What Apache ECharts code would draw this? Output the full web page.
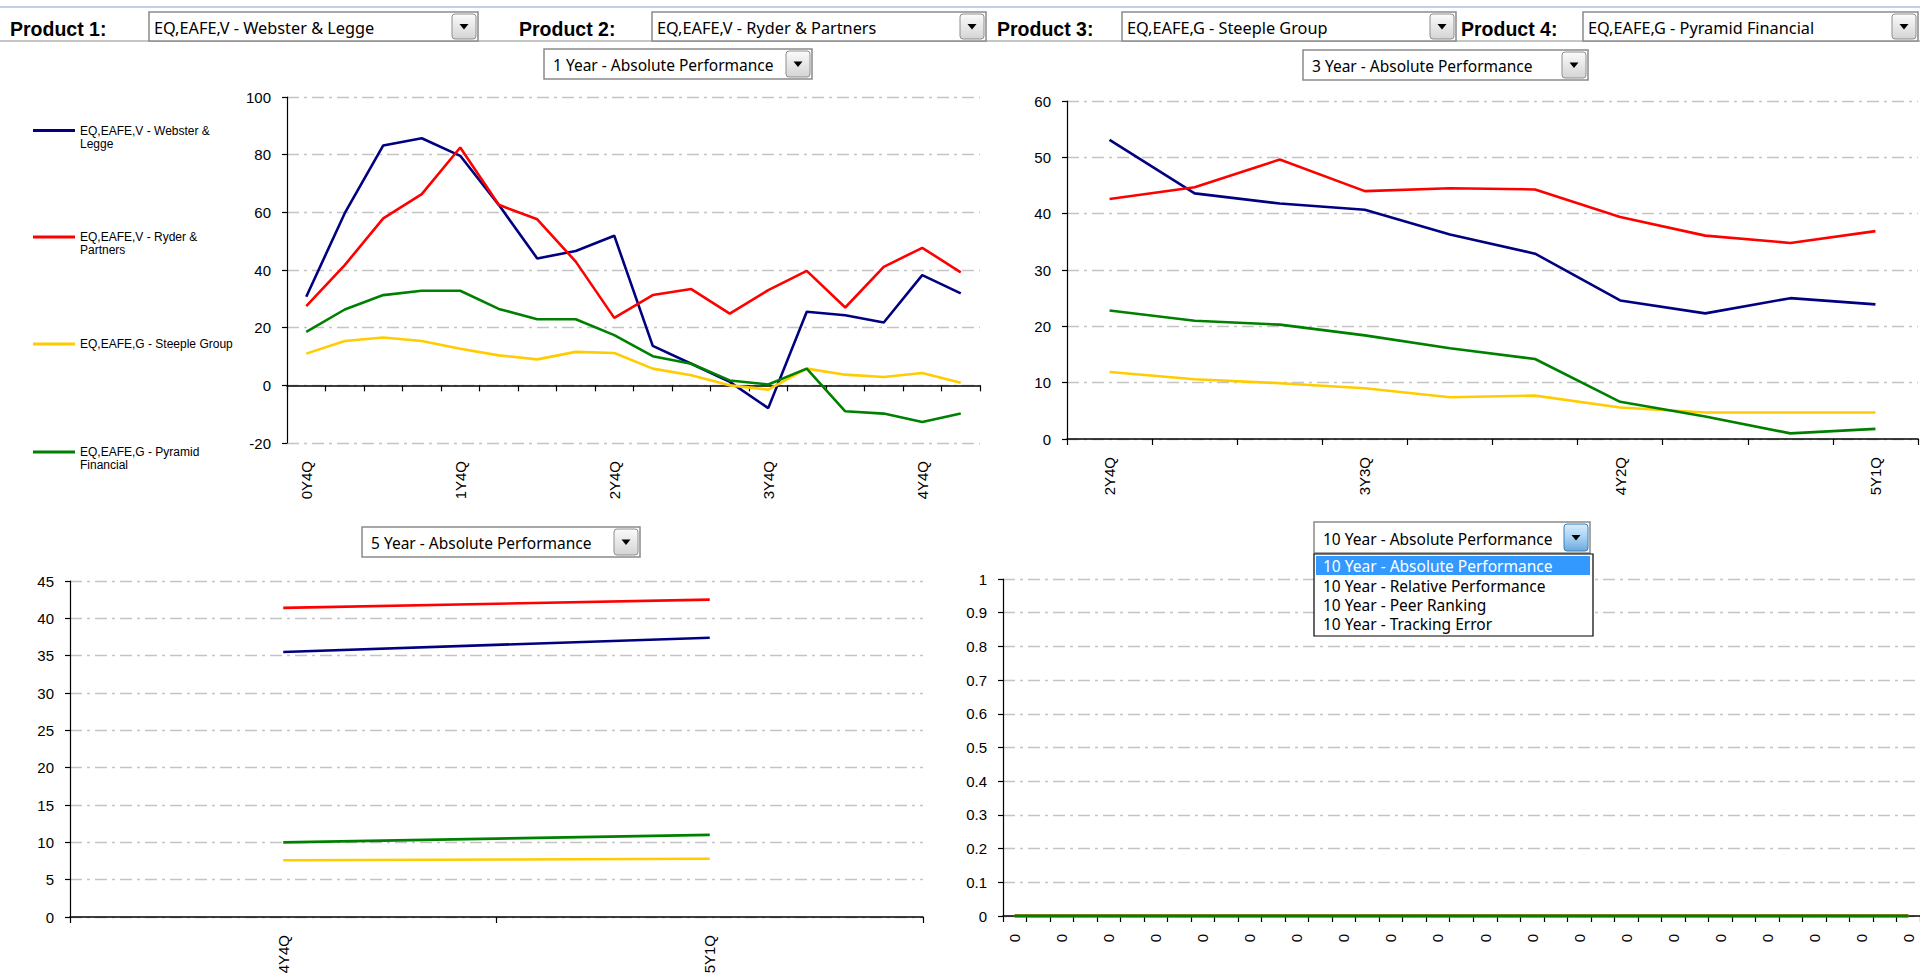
<!DOCTYPE html>
<html>
<head>
<meta charset="utf-8">
<script src="https://cdn.jsdelivr.net/npm/echarts@6/dist/echarts.min.js"></script>
<style>
html,body{margin:0;padding:0;background:#fff;overflow:hidden;}
#chart{width:1920px;height:980px;}
</style>
</head>
<body>
<div id="chart"></div>
<script>
// ---------- data ----------
const seriesNames = ['EQ,EAFE,V - Webster & Legge', 'EQ,EAFE,V - Ryder & Partners', 'EQ,EAFE,G - Steeple Group', 'EQ,EAFE,G - Pyramid Financial'];
const productLabels = ['Product 1:', 'Product 2:', 'Product 3:', 'Product 4:'];
const periodLabels = ['1 Year - Absolute Performance', '3 Year - Absolute Performance', '5 Year - Absolute Performance', '10 Year - Absolute Performance'];
const periodOptions10 = ['10 Year - Absolute Performance', '10 Year - Relative Performance', '10 Year - Peer Ranking', '10 Year - Tracking Error'];

const cats1Y = ['0Y4Q','1Y1Q','1Y2Q','1Y3Q','1Y4Q','2Y1Q','2Y2Q','2Y3Q','2Y4Q','3Y1Q','3Y2Q','3Y3Q','3Y4Q','4Y1Q','4Y2Q','4Y3Q','4Y4Q','5Y1Q'];
const webster1Y  = [30.7, 59.7, 83.2, 85.7, 79.6, 62.6, 44.0, 46.6, 51.9, 13.7, 7.5, 1.2, -7.9, 25.5, 24.3, 21.8, 38.2, 31.9];
const ryder1Y    = [27.5, 41.7, 57.9, 66.3, 82.5, 62.6, 57.6, 42.9, 23.4, 31.3, 33.4, 24.9, 33.0, 39.7, 27.0, 41.1, 47.7, 39.2];
const steeple1Y  = [11.0, 15.4, 16.6, 15.4, 12.7, 10.4, 9.0, 11.6, 11.2, 5.8, 3.5, 0.0, -1.5, 5.8, 3.7, 2.9, 4.3, 0.9];
const pyramid1Y  = [18.5, 26.3, 31.3, 32.8, 32.8, 26.5, 22.9, 22.9, 17.4, 10.1, 7.5, 1.7, 0.3, 5.8, -9.0, -9.8, -12.7, -9.8];

const cats3Y = ['2Y4Q','3Y1Q','3Y2Q','3Y3Q','3Y4Q','4Y1Q','4Y2Q','4Y3Q','4Y4Q','5Y1Q'];
const webster3Y  = [53.1, 43.6, 41.8, 40.7, 36.3, 32.9, 24.6, 22.3, 25.0, 23.9];
const ryder3Y    = [42.6, 44.7, 49.6, 44.0, 44.5, 44.3, 39.4, 36.1, 34.8, 36.9];
const steeple3Y  = [11.9, 10.6, 9.9, 9.0, 7.4, 7.7, 5.6, 4.7, 4.7, 4.7];
const pyramid3Y  = [22.8, 21.0, 20.3, 18.4, 16.1, 14.2, 6.6, 4.0, 1.0, 1.8];

const cats5Y = ['4Y4Q','5Y1Q'];
const webster5Y  = [35.5, 37.4];
const ryder5Y    = [41.4, 42.5];
const steeple5Y  = [7.6, 7.8];
const pyramid5Y  = [10.0, 11.0];

const cats10Y = ['0','0','0','0','0','0','0','0','0','0','0','0','0','0','0','0','0','0','0','0','0','0','0','0','0','0','0','0','0','0','0','0','0','0','0','0','0','0','0'];
const webster10Y = [0,0,0,0,0,0,0,0,0,0,0,0,0,0,0,0,0,0,0,0,0,0,0,0,0,0,0,0,0,0,0,0,0,0,0,0,0,0,0];
const ryder10Y   = [0,0,0,0,0,0,0,0,0,0,0,0,0,0,0,0,0,0,0,0,0,0,0,0,0,0,0,0,0,0,0,0,0,0,0,0,0,0,0];
const steeple10Y = [0,0,0,0,0,0,0,0,0,0,0,0,0,0,0,0,0,0,0,0,0,0,0,0,0,0,0,0,0,0,0,0,0,0,0,0,0,0,0];
const pyramid10Y = [0,0,0,0,0,0,0,0,0,0,0,0,0,0,0,0,0,0,0,0,0,0,0,0,0,0,0,0,0,0,0,0,0,0,0,0,0,0,0];

const yMin = [-20, 0, 0, 0];
const yMax = [100, 60, 45, 1];
const yStep = [20, 10, 5, 0.1];

// ---------- styles / layout ----------
const seriesColors = ['#000080', '#ff0000', '#ffcc00', '#008000'];
const chartData = [
  [webster1Y, ryder1Y, steeple1Y, pyramid1Y],
  [webster3Y, ryder3Y, steeple3Y, pyramid3Y],
  [webster5Y, ryder5Y, steeple5Y, pyramid5Y],
  [webster10Y, ryder10Y, steeple10Y, pyramid10Y]
];
const chartCats = [cats1Y, cats3Y, cats5Y, cats10Y];
const labelInterval = [3, 2, 0, 1];
const lineW = [2.6, 2.6, 2.6, 3.2];
const grids = [
  {left: 287, top: 97, width: 693, height: 346},
  {left: 1067, top: 101, width: 851, height: 338},
  {left: 70, top: 581, width: 853, height: 336},
  {left: 1003, top: 579, width: 917, height: 337}
];
const AX_FONT = 'Liberation Sans';
const UI_FONT = '"Noto Sans"';

const chart = echarts.init(document.getElementById('chart'), null, {renderer: 'svg', width: 1920, height: 980});

const yAxes = grids.map((g, i) => ({
  type: 'value', gridIndex: i, min: yMin[i], max: yMax[i], interval: yStep[i],
  axisLine: {show: true, lineStyle: {color: '#000', width: 1.2}},
  axisTick: {show: true, length: 5, lineStyle: {color: '#000', width: 1.2}},
  axisLabel: {color: '#000', fontSize: 15, fontFamily: AX_FONT, margin: 16},
  splitLine: {show: true, lineStyle: {color: '#c4c4c4', width: 1.3, type: [12, 5, 3, 5]}}
}));

function xAxisBase(gridIndex, data, interval) {
  return {
    type: 'category', gridIndex: gridIndex, data: data, boundaryGap: true, position: 'bottom',
    axisLine: {show: true, onZero: true, lineStyle: {color: '#000', width: 1.5}},
    axisTick: {show: true, interval: 0, length: 6, lineStyle: {color: '#000', width: 1.2}},
    axisLabel: {show: true, interval: interval, rotate: 90, color: '#000', fontSize: 15, fontFamily: AX_FONT, margin: 18},
    splitLine: {show: false}
  };
}
const xAxes = [];
// chart 1: line + ticks at zero, labels at bottom
const x1a = xAxisBase(0, cats1Y, labelInterval[0]);
x1a.axisLabel.show = false;
xAxes.push(x1a);
const x1b = xAxisBase(0, cats1Y, labelInterval[0]);
x1b.axisLine = {show: false, onZero: false};
x1b.axisTick = {show: false};
xAxes.push(x1b);
for (let c = 1; c < 4; c++) xAxes.push(xAxisBase(c, chartCats[c], labelInterval[c]));
const xIndexForChart = [0, 2, 3, 4];

const series = [];
for (let c = 0; c < 4; c++) {
  for (let s = 0; s < 4; s++) {
    series.push({
      type: 'line', name: seriesNames[s], xAxisIndex: xIndexForChart[c], yAxisIndex: c,
      data: chartData[c][s], symbol: 'none', showSymbol: false, animation: false,
      lineStyle: {color: seriesColors[s], width: lineW[c]},
      itemStyle: {color: seriesColors[s]},
      emphasis: {disabled: true}
    });
  }
}

// legends (one per item, stacked on the left of chart 1)
const legendTops = [111, 217.5, 337.5, 432.5];
const legendTwoLine = [true, true, false, true];
const legends = seriesNames.map((name, i) => ({
  data: [{name: name, icon: 'rect'}],
  formatter: legendTwoLine[i] ? '\n{name}' : '{name}',
  left: 33, top: legendTops[i], orient: 'vertical', padding: 0,
  itemWidth: 42, itemHeight: 3, itemGap: 0, selectedMode: false,
  textStyle: {color: '#000', fontSize: 12, fontFamily: AX_FONT, lineHeight: 13, width: 158, overflow: 'break'}
}));

// ---------- UI widgets (dropdowns) ----------
function grayGrad() {
  return new echarts.graphic.LinearGradient(0, 0, 0, 1, [{offset: 0, color: '#fbfbfb'}, {offset: 1, color: '#d4d4d4'}]);
}
function blueGrad() {
  return new echarts.graphic.LinearGradient(0, 0, 0, 1, [{offset: 0, color: '#d9ecfb'}, {offset: 0.5, color: '#a9d2f3'}, {offset: 1, color: '#6aa9dd'}]);
}
function dropdown(x, y, w, h, text, textPad, fontSize, active) {
  const bw = 24;
  const bx = x + w - bw - 2, by = y + 2, bh = h - 4;
  const cx = bx + bw / 2, cy = by + bh / 2;
  return [
    {type: 'rect', z: 100, shape: {x: x, y: y, width: w, height: h}, style: {fill: '#fff', stroke: '#8a8a8a', lineWidth: 1.5}},
    {type: 'text', z: 101, style: {x: x + textPad, y: y + h / 2 + 1, text: text, font: fontSize + 'px ' + UI_FONT, fill: '#000', verticalAlign: 'middle'}},
    {type: 'rect', z: 101, shape: {x: bx, y: by, width: bw, height: bh, r: 3}, style: {fill: active ? blueGrad() : grayGrad(), stroke: active ? '#3c7fb1' : '#8e8e8e', lineWidth: 1}},
    {type: 'polygon', z: 102, shape: {points: [[cx - 4.5, cy - 2.5], [cx + 4.5, cy - 2.5], [cx, cy + 3]]}, style: {fill: '#000'}}
  ];
}

const graphic = [];
graphic.push({type: 'line', z: 90, shape: {x1: 0, y1: 7, x2: 1920, y2: 7}, style: {stroke: '#aebfdc', lineWidth: 1.5}});
graphic.push({type: 'line', z: 90, shape: {x1: 0, y1: 41, x2: 1920, y2: 41}, style: {stroke: '#8c8c8c', lineWidth: 1}});

const productLabelX = [10, 519, 997, 1461];
const productBoxes = [[149, 329], [652, 334], [1122, 334], [1583, 335]];
for (let i = 0; i < 4; i++) {
  graphic.push({type: 'text', z: 101, style: {x: productLabelX[i], y: 29, text: productLabels[i], font: 'bold 19.5px "Liberation Sans"', fill: '#000', verticalAlign: 'middle'}});
  dropdown(productBoxes[i][0], 12, productBoxes[i][1], 29, seriesNames[i], 5, 16.3, false).forEach(e => graphic.push(e));
}
const periodBoxes = [[544, 49, 268, 30], [1303, 50, 285, 30], [362, 527, 278, 30], [1314, 522, 276, 31]];
for (let i = 0; i < 4; i++) {
  const b = periodBoxes[i];
  dropdown(b[0], b[1], b[2], b[3], periodLabels[i], 9, 15.5, i === 3).forEach(e => graphic.push(e));
}
// open list of chart 4 dropdown
graphic.push({type: 'rect', z: 110, shape: {x: 1314, y: 554, width: 279, height: 82}, style: {fill: '#fff', stroke: '#000', lineWidth: 1.2}});
graphic.push({type: 'rect', z: 111, shape: {x: 1316, y: 556, width: 274, height: 19}, style: {fill: '#3399ff'}});
const listY = [566, 586, 605, 624];
periodOptions10.forEach((t, i) => {
  graphic.push({type: 'text', z: 112, style: {x: 1323, y: listY[i], text: t, font: '15.5px ' + UI_FONT, fill: i === 0 ? '#ffffff' : '#000', verticalAlign: 'middle'}});
});

chart.setOption({
  animation: false,
  backgroundColor: '#ffffff',
  grid: grids.map(g => Object.assign({containLabel: false}, g)),
  xAxis: xAxes,
  yAxis: yAxes,
  legend: legends,
  series: series,
  graphic: graphic
});
</script>
</body>
</html>
